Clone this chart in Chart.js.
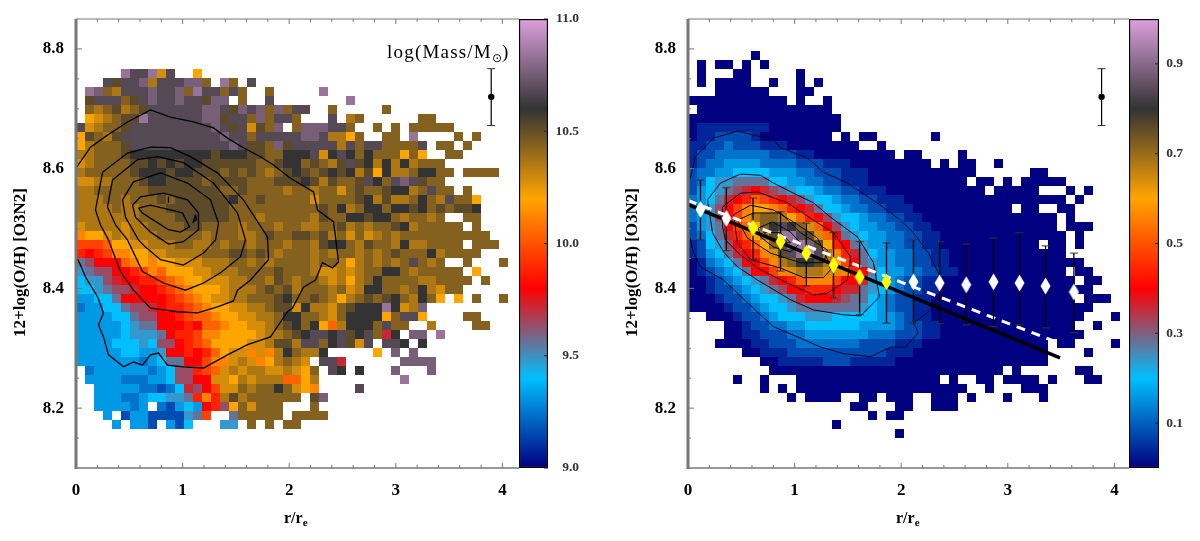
<!DOCTYPE html>
<html>
<head>
<meta charset="utf-8">
<title>Metallicity gradient</title>
<script src="https://cdn.jsdelivr.net/npm/chart.js@4"></script>
<style>
    html, body { margin: 0; padding: 0; background: #fff; }
    body { width: 1200px; height: 541px; position: relative; overflow: hidden; }
    canvas { position: absolute; top: 0; }
</style>
</head>
<body>
<canvas id="leftPanel" width="519" height="541" style="left:0"></canvas>
<canvas id="leftBar" width="60" height="541" style="left:519px"></canvas>
<canvas id="rightPanel" width="517" height="541" style="left:612px"></canvas>
<canvas id="rightBar" width="54" height="541" style="left:1129px"></canvas>
<script>
// Heat maps: one letter per bin, a = colour bar minimum ... z = colour bar maximum, '.' = empty bin.
// Rows run from the top of the populated area downwards, columns from r/re = 0.
const LEFT_ROWS = [
    '',
    '',
    '.....xvvxqv..p',
    '...vtvvwrvvvwws.xs.v',
    '.xwsrvvvwvvwsxvvsvs..s.....x',
    '.tvvvstvwvvwvvtww.s..v........x',
    '.srstrstvvvvvvwwvtwvwswsvv..s.....s',
    '.pqrsttxvvvvvvwwtvvswsvvs...v.rs......ss',
    'vqrsstvvvvvvvvvwvtvqtsw.swwwvvs..s.s.sssss',
    'ptsrtvvvvvvvvvvvwvvsvvvvvwwvrrps..ss.x....s.s',
    'prssstvvvvvvvvvvvwvttswtvvvvvrvsvvssssv.ss.s',
    'rrssstuuuuuuuuutuuuttssuuuvquvusussspsp..ss',
    'qrssssttututuuttttttsstuustsrtvtururursss',
    'rssssstuuutuutttststsrstutstuturtpurrsuuss.ssss',
    'qqrrssstuuttttsttttssstttutrtsstvusvwvtss',
    'rrssssssttttttttsstssssrssrssqstsstuursvss.s',
    'rrrssrssststtttttusstsssssqssssturtrrsusrvssp',
    'rrrrsrrsssttttttt' + 'sssssssssstsurs' + 'uusuutuststtu',
    'rrrrrrrssssttttttsssrsssssrtssuutuusrssrs..ss',
    'qrrrrqrrssssttssssrsssrssrrsstrsrsstursssss.s',
    'oppqrqrrrsssssrsssrrstssttstrsqsqrsrssssssssss',
    'mmmnppqqrrrssrrsrssrsssrssrtuusrtssrurrssss.sss',
    'lklmooppqqrrrrssstts' + 'tsrs' + 'ssrsrssrsrstsssurssss',
    'hikkknopoppqqqrrrssrsrss' + 'ssrssrprsrsrsvsrs..s...s',
    'ghiikklmonpppqqrrrssssts' + 'ssrqqrqrssuusrsssss.p',
    'fggijkkllmnoppqqqrrssrts' + 'rssrqrprsussssrrssss.s',
    'ffghiijkklmnopppqrrrstst' + 'rsssrsqruussrsurqss',
    'eeffhkkkkklmnopqqrrssstu' + 'sstsrprstst' + 'usrusp.p.s..s',
    'deeffhiijkllmnoppqqrrstt' + 'qurrqstuuuxuqrw',
    'eeeeffhiikklmnnoppqqrrsu' + 'ussrqsuuuupsvvp....ss',
    'eeeeefghhkkklknnoppqqrst' + 'usupnruuusvss..r....ss',
    'eeeeefggghkllmoopppp' + 'qrrs' + 'tuvvuvtuvsju.ww.x',
    'eeeefffgfiiklmnppppq' + 'qrtt' + 'rvvsuvtqv.vvu.u',
    'eeeeeffeegkklklnpqqo' + 'qoru' + 'srru.....p.w.w',
    'eeeeeeedefhhkkmooqrq' + 'oprs' + 'rq.vvj......wwww',
    '.deeeeeedefiilmnqrqr' + 'rqqr' + 'qps.vu.u...w...w',
    '.eeeedddeefiikkqqprq' + 'rrrn' + 'npr.........x',
    '..eeeeeddcdfjikmqqsr' + 'ssus' + 'qpo....v',
    '..eeeddeffgghlolrtrs' + 'ssss' + 's.tw',
    '..eeeede.dcefeklipsq' + 'sss.' + '..s',
    '...e.ceeccccghm..hss' + 'sss.' + 'ssss',
    '....e.eec.ecf...gg.s' + '.s.ss'
];
const RIGHT_ROWS = [
    '.......a',
    '.a.aa.a.a',
    '.a...aa.....a',
    '.a.aaaa..a..a.a',
    '...aaaaaa...aa',
    'aaaaaaaaaaa.a..a',
    '.aaaaaaaaaaaaaaa',
    'aaaaaaaaaaaaaaaaa',
    'abbbbbbbbaaaaaaaa',
    'abbccccbaaaaaaaa.a.aa......a',
    'bbccdcccbbbaaaaaaaa..a',
    'bccddddddcccbbaaaaaaaaa.aa....a',
    'bcddeeeeddddcccbbbaaaaaaaaa.a.aa..a',
    'cddeeffffeeeddcccbbbaaaaaaaaaaaa......aa',
    'cdfgghhhhffeeddccbbbaaaaaaaaaaa.aa.a.aaaaa',
    'cefghijkjihgffeddccbbbaaaaaaaaaaa.aaaaa...a.a',
    'defhjklnmlkjigffeddccbbbaaaaaaaaaaaaaaaaaa.a',
    'degikmopponlkjhffeddccbbbaaaaaaaaaaa.aa..aa',
    'degikmorssrpnlkigffeddccbbaaaaaaaaaaaaaaa.a',
    'ceghkmnpsuvusqnkigfeeddccbbaaaaaaaaaaaaaa.aaa',
    'cdfhjlnprtxxvtqnkhgfeeddccbbaaaaaaaaaaaaaa.a',
    'bcfgiklnpsvxxwtplkhgeeddccbbaaaaaaaaaaa.aa.a',
    'bcefhjkloqtvxyvroljhfeeddccbbaaaaaaaaaaaaa',
    'abdefhkkmorsuutrpmkhgeeddccbbaaaaaaaaaaaaaaa',
    'abcdefhkkmoqrrrqqolkhfeeddccbbaaaaaaaaaaaa.aa',
    'aabcdefghjklnooomkkjgfedccbbaaaaaaaaaaaaaaa.aa',
    'aabccdefghikklllkjjhgfedccbbaaaaaaaaaaaaaaaaa',
    'aaabccdeffghjkkkjihhfedccbbaaaaaaaaaaaaaaaa.aaa',
    'aaaabccdeffghhhhhhhgfedccbbaaaaaaaaaaaaaaaaaa',
    '..aaabccdefffgggfffffeedcbbaaaaaaaaaaaaaaaaa...a',
    '....aabccddeeffffffeeeedccbbaaaaaaaaaaaaaaa..a',
    '....aabbcccddeeeeeeedddcccbbaaaaaaaaaaaaaaaa',
    '...aaaabbcccdddddddccccbbbaaaaaaaaaaaaaa.aa....a',
    '......aabbbcccccccccccbbbaaaaaaaaaaaaaaa....a',
    '........aabbbbbcccbbbbbaaaaaaaaaaaaaaaaa',
    '.........aaaaaaaaaaaaaaaaaaaaaaaaaa.a......aa',
    '.....a..a...aaaaaaaaaaaaaaaa.a..aa.aaaa.a...aa',
    '........a.a.aaaaaaaaaaaaaaaaaaa..a...aaa',
    '...........a.aaaa..aa.aaa..aaa.a...a...a',
    '..................aa...aa..aaa',
    '....................a.aa',
    '................a',
    '.......................a'
];
const BIN_WIDTH = 0.084428;
const BIN_HEIGHT = 0.015033;
const TOP_ROW_Y = 8.78903;

const X_TICKS = [0, 1, 2, 3, 4];
const Y_TICKS = [8.2, 8.4, 8.6, 8.8];
const X_MINOR = [0.2, 0.4, 0.6, 0.8, 1.2, 1.4, 1.6, 1.8, 2.2, 2.4, 2.6, 2.8, 3.2, 3.4, 3.6, 3.8];
const Y_MINOR = [8.15, 8.25, 8.3, 8.35, 8.45, 8.5, 8.55, 8.65, 8.7, 8.75];
const LEFT_BAR_TICKS = [9, 9.5, 10, 10.5, 11];
const RIGHT_BAR_TICKS = [0.1, 0.3, 0.5, 0.7, 0.9];

const PALETTE = [[0, 0, 128], [0, 191, 255], [255, 0, 0], [255, 165, 0], [51, 51, 51], [221, 160, 221]];

const LEFT_CONTOURS = [
    [[0, 8.601], [0.136, 8.636], [0.295, 8.656], [0.483, 8.678], [0.699, 8.698], [0.886, 8.686], [1.102, 8.678], [1.29, 8.668], [1.421, 8.651], [1.571, 8.635], [1.731, 8.62], [1.853, 8.606], [2.012, 8.584], [2.228, 8.561], [2.265, 8.531], [2.416, 8.511], [2.434, 8.486], [2.462, 8.444], [2.406, 8.434], [2.312, 8.443], [2.247, 8.414], [2.134, 8.402], [2.031, 8.367], [1.984, 8.361], [1.824, 8.319], [1.609, 8.306], [1.421, 8.289], [1.196, 8.267], [1.008, 8.269], [0.858, 8.272], [0.774, 8.292], [0.699, 8.289], [0.624, 8.272], [0.539, 8.277], [0.446, 8.269], [0.305, 8.289], [0.258, 8.319], [0.211, 8.339], [0.258, 8.359], [0.202, 8.386], [0.089, 8.419], [0.042, 8.439], [0.005, 8.453]],
    [[0.305, 8.481], [0.23, 8.506], [0.183, 8.531], [0.249, 8.594], [0.483, 8.626], [0.699, 8.636], [0.886, 8.635], [1.074, 8.62], [1.327, 8.593], [1.571, 8.548], [1.796, 8.486], [1.806, 8.448], [1.637, 8.414], [1.515, 8.397], [1.477, 8.379], [1.327, 8.369], [1.14, 8.359], [0.952, 8.361], [0.699, 8.367], [0.539, 8.397], [0.417, 8.428], [0.305, 8.481]],
    [[0.295, 8.536], [0.342, 8.581], [0.577, 8.615], [0.765, 8.62], [1.008, 8.61], [1.29, 8.576], [1.515, 8.526], [1.59, 8.481], [1.543, 8.453], [1.356, 8.426], [1.196, 8.409], [1.027, 8.397], [0.821, 8.409], [0.624, 8.428], [0.483, 8.481], [0.371, 8.506], [0.295, 8.536]],
    [[0.436, 8.548], [0.539, 8.578], [0.793, 8.593], [1.046, 8.576], [1.262, 8.548], [1.337, 8.509], [1.309, 8.481], [1.196, 8.459], [1.008, 8.439], [0.793, 8.448], [0.652, 8.469], [0.586, 8.481], [0.464, 8.519], [0.436, 8.548]],
    [[0.53, 8.539], [0.605, 8.553], [0.821, 8.559], [1.046, 8.548], [1.149, 8.526], [1.149, 8.498], [1.008, 8.478], [0.868, 8.474], [0.699, 8.494], [0.558, 8.519], [0.53, 8.539]],
    [[0.586, 8.534], [0.699, 8.539], [0.886, 8.531], [0.999, 8.526], [1.065, 8.503], [0.98, 8.494], [0.868, 8.498], [0.727, 8.514], [0.624, 8.526], [0.586, 8.534]],
    [[0.868, 8.553], [0.868, 8.543]],
    [[1.12, 8.523], [1.1, 8.511], [1.13, 8.515], [1.12, 8.523]]
];
const RIGHT_CONTOURS = [
    [[0.023, 8.584], [0.07, 8.62], [0.239, 8.651], [0.464, 8.663], [0.614, 8.656], [0.793, 8.65], [0.868, 8.635], [1.121, 8.618], [1.271, 8.594], [1.496, 8.576], [1.806, 8.539], [1.993, 8.514], [2.115, 8.493], [2.256, 8.459], [2.416, 8.402], [2.341, 8.381], [2.256, 8.361], [2.115, 8.342], [2.162, 8.326], [2.04, 8.302], [1.9, 8.302], [1.712, 8.286], [1.459, 8.291], [1.243, 8.302], [1.027, 8.319], [0.802, 8.336], [0.558, 8.376], [0.333, 8.414], [0.117, 8.436], [0.042, 8.464], [0.023, 8.484]],
    [[0.23, 8.493], [0.183, 8.548], [0.305, 8.576], [0.492, 8.591], [0.68, 8.589], [0.802, 8.576], [0.99, 8.559], [1.177, 8.543], [1.337, 8.519], [1.59, 8.486], [1.74, 8.443], [1.796, 8.386], [1.618, 8.354], [1.459, 8.356], [1.177, 8.364], [0.962, 8.381], [0.652, 8.414], [0.464, 8.436], [0.333, 8.461], [0.23, 8.493]],
    [[0.324, 8.503], [0.324, 8.536], [0.492, 8.559], [0.652, 8.561], [0.933, 8.543], [1.177, 8.514], [1.365, 8.493], [1.524, 8.453], [1.496, 8.414], [1.309, 8.392], [1.177, 8.389], [0.933, 8.409], [0.68, 8.431], [0.492, 8.456], [0.352, 8.481], [0.324, 8.503]],
    [[0.427, 8.523], [0.586, 8.539], [0.802, 8.531], [0.99, 8.511], [1.215, 8.484], [1.309, 8.448], [1.337, 8.431], [1.271, 8.418], [1.084, 8.418], [0.868, 8.434], [0.586, 8.448], [0.464, 8.476], [0.427, 8.523]],
    [[0.464, 8.514], [0.614, 8.526], [0.868, 8.526], [1.055, 8.493], [1.309, 8.464], [1.271, 8.443], [1.055, 8.443], [0.774, 8.459], [0.558, 8.484], [0.464, 8.514]],
    [[0.661, 8.501], [0.793, 8.511], [0.962, 8.494], [1.055, 8.476], [0.962, 8.461], [0.802, 8.469], [0.68, 8.486], [0.661, 8.501]],
    [[0.708, 8.494], [0.868, 8.493], [0.962, 8.476], [0.802, 8.478], [0.708, 8.494]]
];

// binned medians on the right panel, with their scatter
const YELLOW_X = [0.61, 0.868, 1.11, 1.365, 1.61, 1.862];
const YELLOW_Y = [8.501, 8.478, 8.459, 8.439, 8.419, 8.411];
const WHITE_X = [0.117, 0.36, 2.115, 2.36, 2.61, 2.866, 3.11, 3.354, 3.62];
const WHITE_Y = [8.532, 8.517, 8.411, 8.409, 8.406, 8.411, 8.409, 8.404, 8.394];
const ERR_X = [0.117, 0.36, 0.61, 0.868, 1.11, 1.365, 1.61, 1.862, 2.115, 2.36, 2.61, 2.866, 3.11, 3.354, 3.62];
const ERR_LOW = [8.481, 8.463, 8.448, 8.429, 8.404, 8.384, 8.356, 8.342, 8.342, 8.341, 8.339, 8.336, 8.339, 8.334, 8.326];
const ERR_HIGH = [8.581, 8.568, 8.551, 8.528, 8.509, 8.493, 8.478, 8.476, 8.481, 8.478, 8.474, 8.484, 8.493, 8.471, 8.459];
const FIT_BLACK = [[0, 8.54], [3.49, 8.284]];
const FIT_WHITE = [[0, 8.547], [3.48, 8.309]];

// typical uncertainty marker, top right of both panels
const REF_X_LEFT = 3.895;
const REF_X_RIGHT = 3.88;
const REF_Y = 8.72;
const REF_LOW = 8.672;
const REF_HIGH = 8.767;

const SERIF = '"Liberation Serif", serif';
const AXIS_GRAY = '#777';

function paletteColor(t) {
    const p = Math.min(t, 0.9999) * (PALETTE.length - 1);
    const i = Math.floor(p);
    const f = p - i;
    const c = PALETTE[i].map((v, k) => Math.round(v + (PALETTE[i + 1][k] - v) * f));
    return `rgb(${c[0]},${c[1]},${c[2]})`;
}

function cellsFromRows(rows) {
    const points = [];
    rows.forEach((row, r) => {
        [...row].forEach((ch, j) => {
            if (ch === '.') return;
            points.push({
                x: (j + 0.5) * BIN_WIDTH,
                y: TOP_ROW_Y - r * BIN_HEIGHT,
                t: (ch.charCodeAt(0) - 97) / 25
            });
        });
    });
    return points;
}

function pairs(list) {
    return list.map(p => ({ x: p[0], y: p[1] }));
}

function tallDiamond(color, edge) {
    const c = document.createElement('canvas');
    c.width = 11;
    c.height = 18;
    const g = c.getContext('2d');
    g.beginPath();
    g.moveTo(5.5, 0.5);
    g.lineTo(10.5, 9);
    g.lineTo(5.5, 17.5);
    g.lineTo(0.5, 9);
    g.closePath();
    g.fillStyle = color;
    g.fill();
    if (edge) {
        g.strokeStyle = edge;
        g.lineWidth = 0.6;
        g.stroke();
    }
    return c;
}

function errorDataset(xs, lows, highs, order, width) {
    const data = [];
    xs.forEach((x, i) => {
        data.push({ x: x, y: lows[i] }, { x: x, y: highs[i] }, { x: x, y: null });
    });
    return {
        data: data,
        showLine: true,
        spanGaps: false,
        borderColor: '#000',
        borderWidth: width,
        pointStyle: 'line',
        pointRadius: 4,
        pointBorderColor: '#333',
        pointBorderWidth: 1,
        order: order
    };
}

function lineDataset(points, color, width, order, dash) {
    return {
        data: pairs(points),
        showLine: true,
        borderColor: color,
        borderWidth: width,
        borderDash: dash || [],
        pointRadius: 0,
        tension: 0,
        order: order
    };
}

// axes frame with inward ticks, and the text the scales cannot set
const framePlugin = {
    id: 'frame',
    afterDatasetsDraw(chart, args, opts) {
        const { ctx, chartArea: a, scales: { x, y } } = chart;
        ctx.save();
        ctx.strokeStyle = AXIS_GRAY;
        ctx.lineWidth = 1;
        const tick = (x1, y1, x2, y2) => {
            ctx.beginPath();
            ctx.moveTo(x1, y1);
            ctx.lineTo(x2, y2);
            ctx.stroke();
        };
        X_TICKS.concat(X_MINOR).forEach(v => {
            const len = X_TICKS.includes(v) ? 5 : 3;
            const px = x.getPixelForValue(v);
            tick(px, a.bottom, px, a.bottom - len);
            tick(px, a.top, px, a.top + len);
        });
        Y_TICKS.concat(Y_MINOR).forEach(v => {
            const len = Y_TICKS.includes(v) ? 6 : 3;
            const py = y.getPixelForValue(v);
            tick(a.left, py, a.left + len, py);
        });
        tick(a.left, a.top, a.right, a.top);
        ctx.lineWidth = 1.5;
        tick(a.left, a.bottom, a.right, a.bottom);
        ctx.lineWidth = 3;
        tick(a.left, a.top, a.left, a.bottom + 1);
        ctx.restore();

        ctx.save();
        ctx.fillStyle = '#000';
        ctx.font = 'bold 16px ' + SERIF;
        ctx.textBaseline = 'alphabetic';
        ctx.fillText('r/r', a.left + 208, 523);
        const w = ctx.measureText('r/r').width;
        ctx.font = 'bold 11px ' + SERIF;
        ctx.fillText('e', a.left + 208 + w, 526);
        ctx.translate(25, 337);
        ctx.rotate(-Math.PI / 2);
        ctx.font = 'bold 17px ' + SERIF;
        ctx.fillText('12+log(O/H) [O3N2]', 0, 0);
        ctx.restore();

        if (opts.massLabel) {
            ctx.save();
            ctx.fillStyle = '#000';
            ctx.letterSpacing = '1.2px';
            ctx.font = '19px ' + SERIF;
            ctx.fillText('log(Mass/M', 387, 58);
            const lw = ctx.measureText('log(Mass/M').width;
            ctx.letterSpacing = '0px';
            ctx.font = '12px "DejaVu Sans"';
            ctx.fillText('\u2299', 387 + lw, 62);
            const sw = ctx.measureText('\u2299').width;
            ctx.font = '19px ' + SERIF;
            ctx.fillText(')', 387 + lw + sw, 58);
            ctx.restore();
        }
    }
};

function makePanel(id, rows, contours, xMax, refX, massLabel, extra) {
    const cells = cellsFromRows(rows);
    const datasets = [{
        data: cells,
        pointStyle: 'rect',
        pointRadius: 6.37,
        pointBorderWidth: 0,
        pointBackgroundColor: cells.map(c => paletteColor(c.t)),
        order: 20
    }];
    contours.forEach(c => datasets.push(lineDataset(c, massLabel ? '#000' : '#00072a', massLabel ? 1.3 : 1, 10)));
    datasets.push(errorDataset([refX], [REF_LOW], [REF_HIGH], 3, 1.2));
    datasets.push({
        data: [{ x: refX, y: REF_Y }],
        pointStyle: 'circle',
        pointRadius: 3.2,
        pointBackgroundColor: '#000',
        pointBorderWidth: 0,
        order: 2
    });
    extra.forEach(d => datasets.push(d));

    return new Chart(document.getElementById(id), {
        type: 'scatter',
        data: { datasets: datasets },
        options: {
            responsive: false,
            animation: false,
            devicePixelRatio: 1,
            events: [],
            layout: { autoPadding: false, padding: { top: 19, left: 0, right: 0, bottom: 0 } },
            plugins: { legend: { display: false }, tooltip: { enabled: false }, frame: { massLabel: massLabel } },
            scales: {
                x: {
                    type: 'linear', min: 0, max: xMax,
                    grid: { display: false, drawTicks: false },
                    border: { display: false },
                    afterBuildTicks: s => { s.ticks = X_TICKS.map(v => ({ value: v })); },
                    afterFit: s => { s.height = 73; s.paddingLeft = 0; s.paddingRight = 0; },
                    ticks: { padding: 12, maxRotation: 0, autoSkip: false, color: '#000', font: { family: SERIF, size: 17, weight: 'bold' }, callback: v => String(v) }
                },
                y: {
                    type: 'linear', min: 8.1, max: 8.85,
                    grid: { display: false, drawTicks: false },
                    border: { display: false },
                    afterBuildTicks: s => { s.ticks = Y_TICKS.map(v => ({ value: v })); },
                    afterFit: s => { s.width = 76; s.paddingTop = 0; s.paddingBottom = 0; },
                    ticks: { padding: 12, autoSkip: false, color: '#000', font: { family: SERIF, size: 17, weight: 'bold' }, callback: v => v.toFixed(1) }
                }
            }
        },
        plugins: [framePlugin]
    });
}

function makeColorBar(id, lo, hi, ticks, scaleWidth) {
    return new Chart(document.getElementById(id), {
        type: 'bar',
        data: {
            labels: [''],
            datasets: [{
                data: [[lo, hi]],
                borderColor: '#000',
                borderWidth: 1.5,
                borderSkipped: false,
                backgroundColor: ctx => {
                    const area = ctx.chart.chartArea;
                    if (!area) return '#000';
                    const g = ctx.chart.ctx.createLinearGradient(0, area.bottom, 0, area.top);
                    PALETTE.forEach((c, i) => g.addColorStop(i / (PALETTE.length - 1), `rgb(${c[0]},${c[1]},${c[2]})`));
                    return g;
                },
                categoryPercentage: 1,
                barPercentage: 1
            }]
        },
        options: {
            responsive: false,
            animation: false,
            devicePixelRatio: 1,
            events: [],
            layout: { autoPadding: false, padding: { top: 19, left: 0, right: 0, bottom: 73 } },
            plugins: { legend: { display: false }, tooltip: { enabled: false } },
            scales: {
                x: { display: false },
                y: {
                    position: 'right', min: lo, max: hi,
                    grid: { display: false, drawTicks: false },
                    border: { display: false },
                    afterBuildTicks: s => { s.ticks = ticks.map(v => ({ value: v })); },
                    afterFit: s => { s.width = scaleWidth; s.paddingTop = 0; s.paddingBottom = 0; },
                    ticks: { padding: 7, crossAlign: 'far', autoSkip: false, color: '#333', font: { family: SERIF, size: 13.5, weight: 'bold' }, callback: v => v.toFixed(1) }
                }
            }
        },
        plugins: [{
            id: 'barTicks',
            afterDatasetsDraw(chart) {
                const { ctx, chartArea: a, scales: { y } } = chart;
                ctx.save();
                ctx.strokeStyle = '#222';
                ctx.lineWidth = 1;
                ticks.forEach(v => {
                    const py = y.getPixelForValue(v);
                    ctx.beginPath();
                    ctx.moveTo(a.right - 4, py);
                    ctx.lineTo(a.right, py);
                    ctx.stroke();
                });
                ctx.restore();
            }
        }]
    });
}

makePanel('leftPanel', LEFT_ROWS, LEFT_CONTOURS, 4.1557, REF_X_LEFT, true, []);

makePanel('rightPanel', RIGHT_ROWS, RIGHT_CONTOURS, 4.1369, REF_X_RIGHT, false, [
    lineDataset(FIT_BLACK, '#000', 3.5, 8),
    lineDataset(FIT_WHITE, '#fff', 3, 7, [9, 7]),
    errorDataset(ERR_X, ERR_LOW, ERR_HIGH, 6, 1.3),
    {
        data: WHITE_X.map((x, i) => ({ x: x, y: WHITE_Y[i] })),
        pointStyle: tallDiamond('#fff'),
        pointRadius: 5,
        order: 5
    },
    {
        data: YELLOW_X.map((x, i) => ({ x: x, y: YELLOW_Y[i] })),
        pointStyle: tallDiamond('#ffff00'),
        pointRadius: 5,
        order: 4
    }
]);

makeColorBar('leftBar', 9, 11, LEFT_BAR_TICKS, 31);
makeColorBar('rightBar', 0, 1, RIGHT_BAR_TICKS, 24);
</script>
</body>
</html>
